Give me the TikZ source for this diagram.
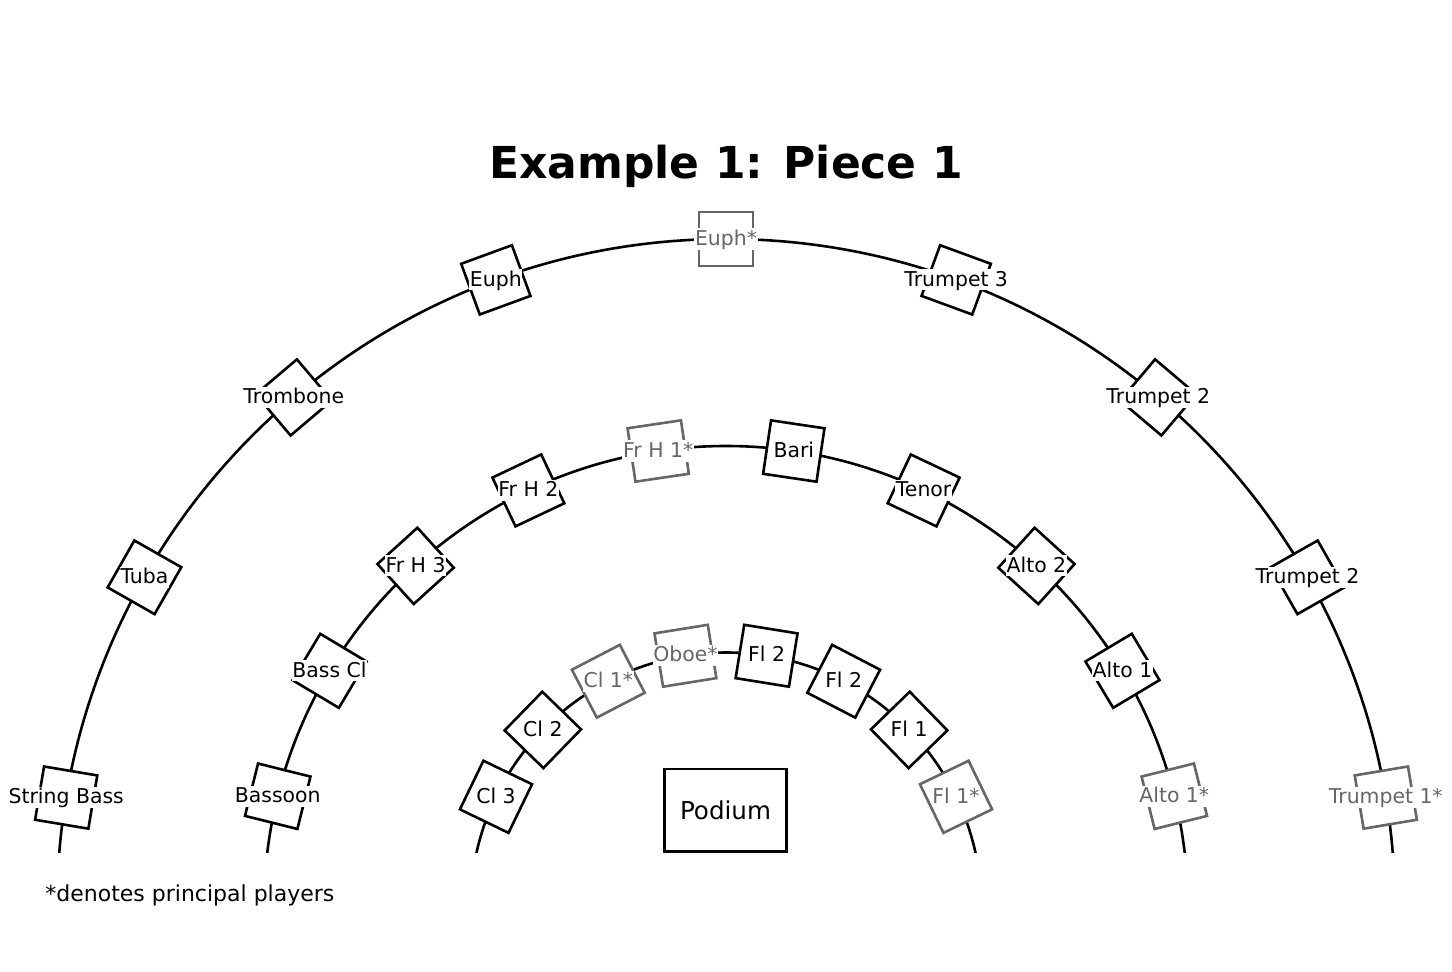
\documentclass[tikz,border=0pt]{standalone}
\usepackage{fontspec}
\setmainfont{DejaVu Sans}
\usetikzlibrary{calc}
\definecolor{principal}{HTML}{666666}

\begin{document}
\begin{tikzpicture}[
    x=0.5pt, y=0.5pt,
    % Seats and labels
    seat/.style={draw, fill=white, line width=1.3pt, minimum size=27pt, inner sep=0pt},
    seat label/.style={fill=white, inner sep=0.4pt, font=\fontsize{10.2}{12}\selectfont, text height=8pt, text depth=1.8pt},
    % Rows, podium, texts
    row arc/.style={line width=1.3pt},
    podium box/.style={draw, line width=1.3pt, minimum width=61.2pt, minimum height=41.2pt, font=\fontsize{12.3}{14}\selectfont},
    title text/.style={anchor=base, inner sep=0pt, font=\fontsize{22}{26}\selectfont\bfseries},
    note text/.style={anchor=base west, inner sep=0pt, font=\fontsize{11}{13}\selectfont}
]
    \useasboundingbox (0,0) rectangle (1452,971);

    % =========================================================================
    % 1. Centre of the rows
    % =========================================================================
    \coordinate (c) at (726,63);

    % =========================================================================
    % 2. Rows (cut at the podium line)
    % =========================================================================
    \begin{scope}
        \clip (0,119) rectangle (1452,971);
        \foreach \r in {669, 462, 255.5}
            \draw[row arc] (c) ++(0:\r) arc[start angle=0, end angle=180, radius=\r];
    \end{scope}

    % =========================================================================
    % 3. Seats: outer row
    % =========================================================================
    \foreach \a/\lab/\col [count=\i] in {170.5/String Bass/black, 150.375/Tuba/black,
        130.25/Trombone/black, 110.125/Euph/black, 90/Euph*/principal,
        69.875/Trumpet 3/black, 49.75/Trumpet 2/black, 29.625/Trumpet 2/black,
        9.5/Trumpet 1*/principal} {
        \node[seat, draw=\col, rotate=\a-90] (outer-\i) at ($(c)+(\a:669)$) {};
        \node[seat label, text=\col] (outer-lab-\i) at (outer-\i) {\lab};
    }

    % =========================================================================
    % 4. Seats: middle row
    % =========================================================================
    \foreach \a/\lab/\col [count=\i] in {166/Bassoon/black, 149.11/Bass Cl/black,
        132.22/Fr H 3/black, 115.33/Fr H 2/black, 98.44/Fr H 1*/principal,
        81.56/Bari/black, 64.67/Tenor/black, 47.78/Alto 2/black,
        30.89/Alto 1/black, 14/Alto 1*/principal} {
        \node[seat, draw=\col, rotate=\a-90] (middle-\i) at ($(c)+(\a:462)$) {};
        \node[seat label, text=\col] (middle-lab-\i) at (middle-\i) {\lab};
    }

    % =========================================================================
    % 5. Seats: inner row
    % =========================================================================
    \foreach \a/\lab/\col [count=\i] in {154.2/Cl 3/black, 135.8/Cl 2/black,
        117.43/Cl 1*/principal, 99.14/Oboe*/principal, 80.86/Fl 2/black,
        62.57/Fl 2/black, 44.2/Fl 1/black, 25.8/Fl 1*/principal} {
        \node[seat, draw=\col, rotate=\a-90] (inner-\i) at ($(c)+(\a:255.5)$) {};
        \node[seat label, text=\col] (inner-lab-\i) at (inner-\i) {\lab};
    }

    % =========================================================================
    % 6. Podium, title and note
    % =========================================================================
    \node[podium box] (podium) at (725.5,161) {Podium};
    \node[title text] (title) at (726,792) {Example 1: Piece 1};
    \node[note text] (note) at (45,69.5) {*denotes principal players};
\end{tikzpicture}
\end{document}
